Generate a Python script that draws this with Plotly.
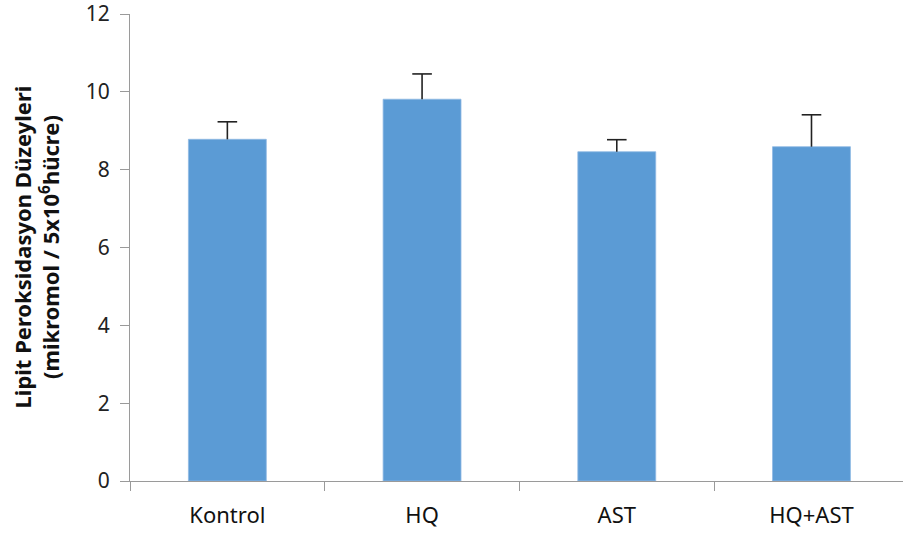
import plotly.graph_objects as go

categories = ["Kontrol", "HQ", "AST", "HQ+AST"]
values = [8.78, 9.81, 8.46, 8.59]
errors = [0.45, 0.65, 0.31, 0.82]
y_ticks = [0, 2, 4, 6, 8, 10, 12]

err_x, err_y = [], []
for c, v, e in zip(categories, values, errors):
    err_x += [c, c, None]
    err_y += [v, v + e, None]
cap_y = [v + e for v, e in zip(values, errors)]

fig = go.Figure()
fig.add_trace(go.Bar(
    x=categories, y=values,
    marker=dict(color="#5B9BD5", line=dict(color="#8FB9E3", width=0.8)),
    width=0.4,
))
fig.add_trace(go.Scatter(
    x=err_x, y=err_y, mode="lines",
    line=dict(color="#222222", width=1.6),
    hoverinfo="skip",
))
fig.add_trace(go.Scatter(
    x=categories, y=cap_y, mode="markers",
    marker=dict(symbol="line-ew", size=14, line=dict(color="#222222", width=1.6)),
    hoverinfo="skip",
))

axis_color = "#9a9a9a"
fig.update_layout(
    width=904, height=535,
    margin=dict(l=130, r=1, t=14, b=54, autoexpand=False),
    plot_bgcolor="white", paper_bgcolor="white",
    showlegend=False,
    font=dict(family="Noto Sans, sans-serif", color="#111111", size=18),
    xaxis=dict(
        range=[-0.5, 3.47], automargin=False,
        showline=True, linecolor=axis_color, linewidth=1,
        ticks="outside", ticklen=9, tickcolor=axis_color, tickson="boundaries",
        tickfont=dict(size=22, family="Noto Sans, sans-serif", color="#111111"),
        ticklabelstandoff=15,
        showgrid=False, zeroline=False,
    ),
    yaxis=dict(
        range=[0, 12], tickvals=y_ticks, automargin=False,
        showline=True, linecolor=axis_color, linewidth=1,
        ticks="outside", ticklen=9, tickcolor=axis_color,
        tickfont=dict(size=21, family="Noto Sans, sans-serif", color="#222222"),
        ticklabelstandoff=6, ticklabeloverflow="allow",
        showgrid=False, zeroline=False,
    ),
    annotations=[dict(
        text="<b>Lipit Peroksidasyon Düzeyleri<br>(mikromol / 5x10<sup>6</sup>hücre)</b>",
        xref="paper", yref="paper",
        x=(36 - 130) / 773, y=0.5,
        xanchor="center", yanchor="middle",
        textangle=-90, showarrow=False,
        font=dict(size=22, family="Noto Sans, sans-serif", color="#111111"),
    )],
)

fig.write_html(
    "out.html",
    config={"displayModeBar": False},
    post_script="document.body.style.margin='0';document.body.style.overflow='hidden';",
)
